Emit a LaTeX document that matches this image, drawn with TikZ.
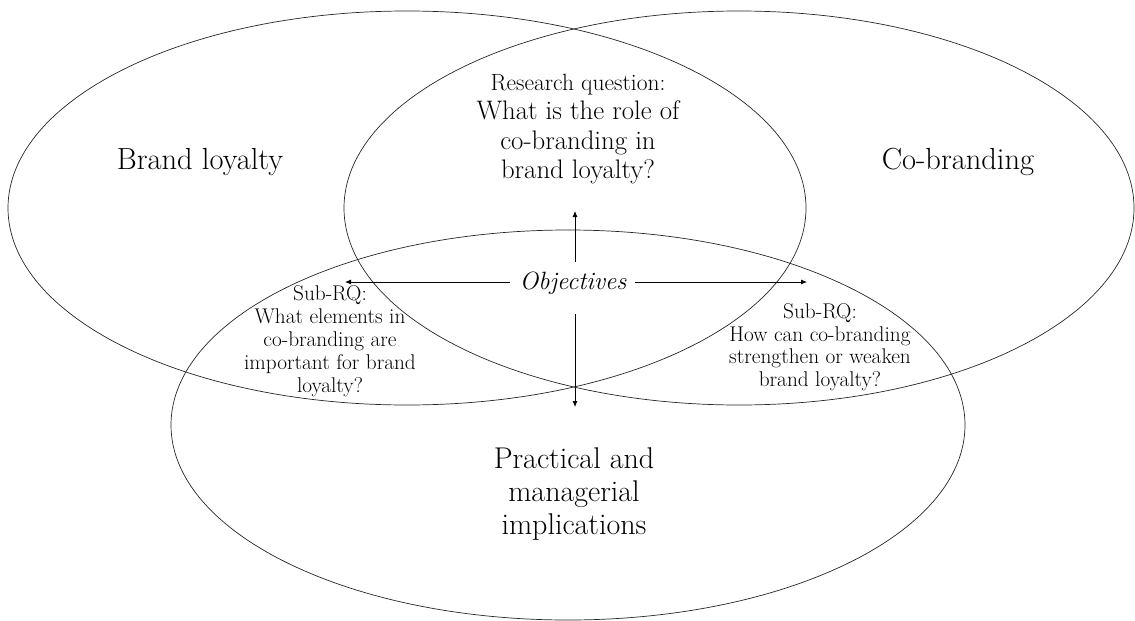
\documentclass[tikz,border=0pt]{standalone}
\usetikzlibrary{arrows.meta}
\begin{document}
\begin{tikzpicture}[x=1pt,y=-1pt,
  venn/.style={draw=black!85,line width=0.7pt},
  txt/.style={align=center,inner sep=0pt},
  arr/.style={line width=0.8pt,-{Latex[length=6pt,width=5pt]}}]
\useasboundingbox (0,0) rectangle (1135,621);
\draw[venn] (407,208) ellipse [x radius=399,y radius=197];
\draw[venn] (739,208) ellipse [x radius=395,y radius=197];
\draw[venn] (568,425) ellipse [x radius=397,y radius=195];

\node[txt,font=\fontsize{30.5}{33}\selectfont] (bl) at (200,162) {Brand loyalty};
\node[txt,font=\fontsize{30.5}{33}\selectfont] (cb) at (958,162) {Co-branding};

\node[txt,font=\fontsize{26.8}{29.5}\selectfont] (rq) at (578,129)
  {{\fontsize{23.5}{29.5}\selectfont Research question:}\\What is the role of\\co-branding in\\brand loyalty?};

\node[txt,font=\fontsize{25}{27}\selectfont\itshape] (obj) at (573,283) {Objectives};

\node[txt,font=\fontsize{21.3}{23}\selectfont] (sl) at (330,341)
  {Sub-RQ:\\What elements in\\co-branding are\\important for brand\\loyalty?};
\node[txt,font=\fontsize{21.3}{22.5}\selectfont] (sr) at (820,347)
  {Sub-RQ:\\How can co-branding\\strengthen or weaken\\brand loyalty?};

\node[txt,font=\fontsize{30}{33}\selectfont] (pm) at (574,494)
  {Practical and\\managerial\\implications};

\coordinate (l0) at (510,282);
\coordinate (l1) at (345,282);
\coordinate (r0) at (635,282);
\coordinate (r1) at (807,282);
\coordinate (u0) at (575,262);
\coordinate (u1) at (575,211);
\coordinate (d0) at (575,314);
\coordinate (d1) at (575,407);
\draw[arr] (l0) -- (l1);
\draw[arr] (r0) -- (r1);
\draw[arr] (u0) -- (u1);
\draw[arr] (d0) -- (d1);
\end{tikzpicture}
\end{document}
